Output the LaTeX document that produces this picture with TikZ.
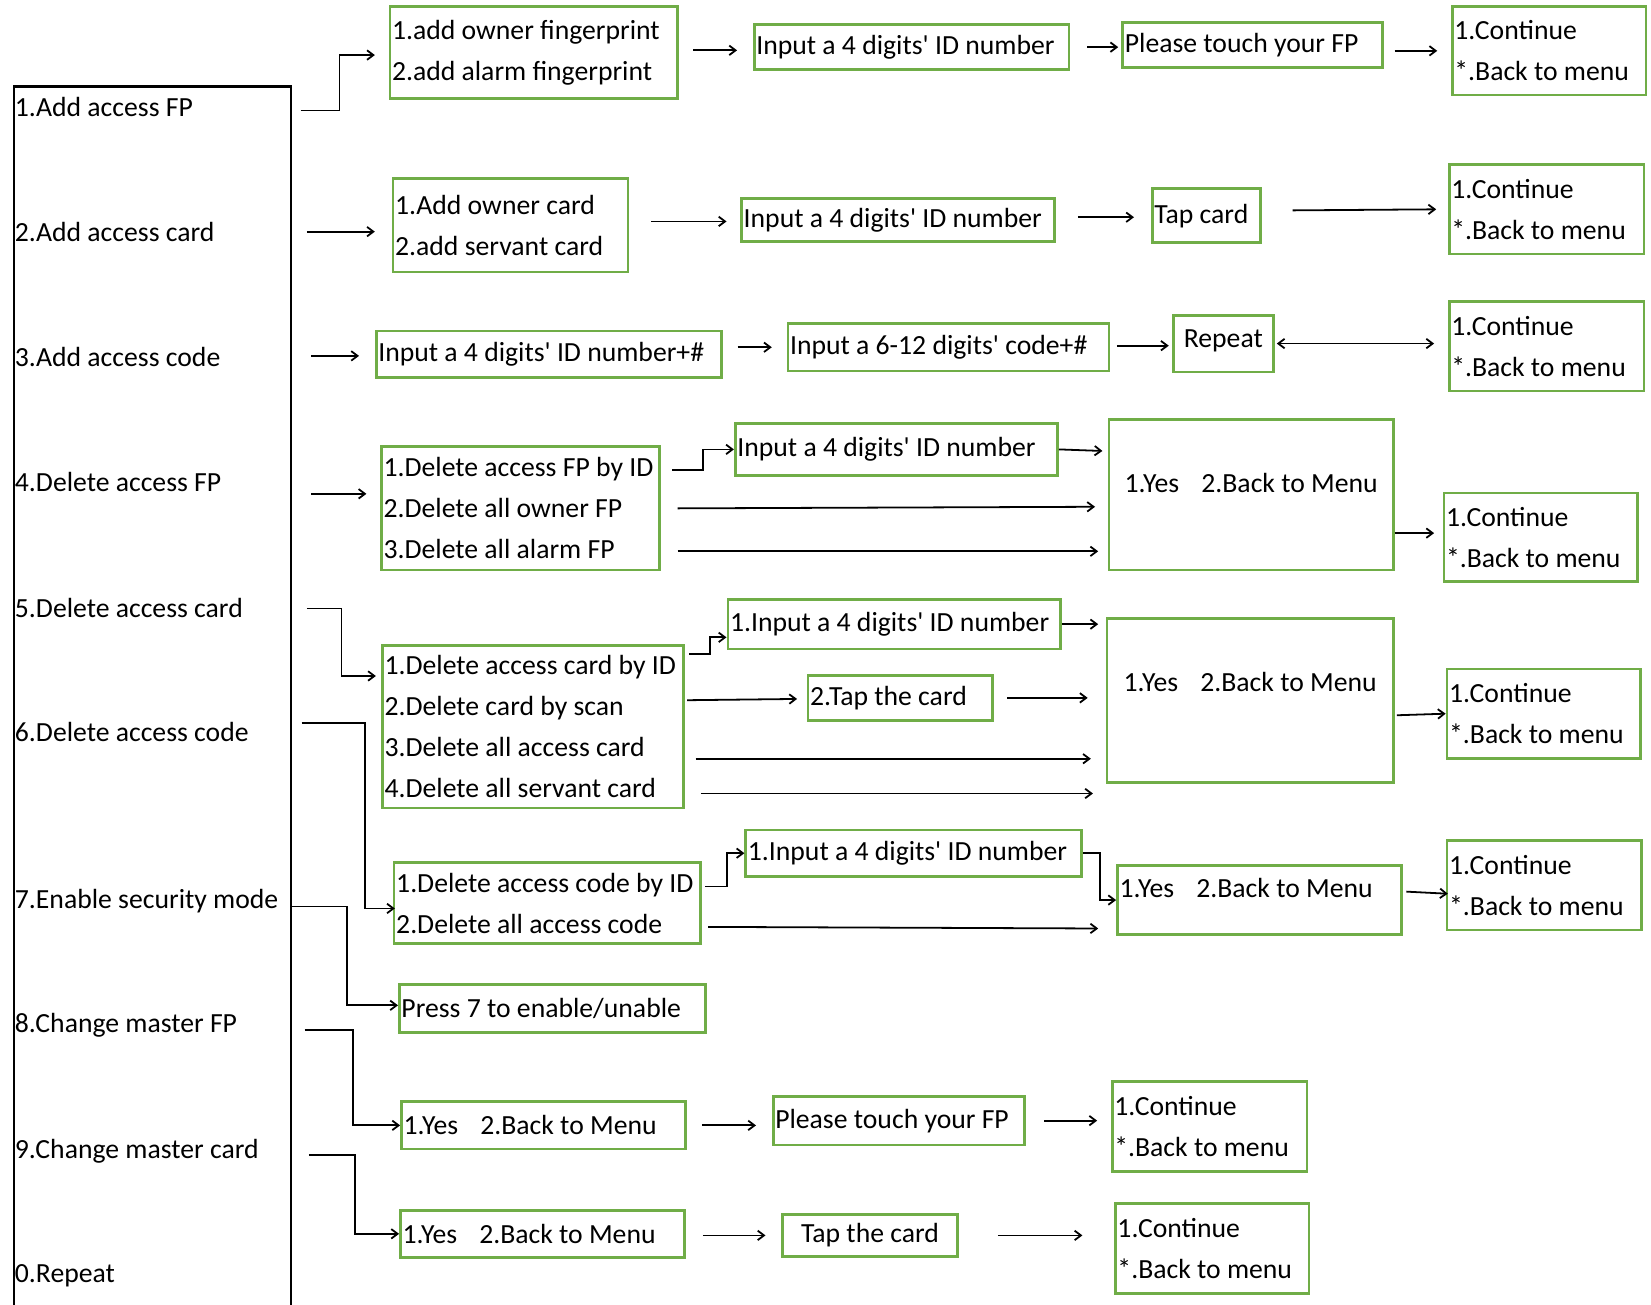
\documentclass[tikz,border=0pt]{standalone}
\usepackage{fontspec}
\setmainfont{Carlito}
\usepackage{tikz}
\usetikzlibrary{arrows.meta,calc}
\definecolor{boxgreen}{HTML}{70AD47}
\newcommand{\menufont}{\fontsize{26.3}{39}\selectfont}
\newcommand{\yesback}{1.Yes\hspace{0.8em}2.Back to Menu}
\newcommand{\contback}{1.Continue\\{}*.Back to menu}
\newcommand{\idnum}{4 digits\textquotesingle{} ID number}
\tikzstyle{screen} = [draw=boxgreen, line width=2.6pt, anchor=north west, align=flush left, inner xsep=2pt, inner ysep=0pt, font=\menufont]
\tikzstyle{menuitem} = [anchor=base west, inner sep=0pt, font=\menufont]
\tikzstyle{conn} = [->, line width=1.7pt]
\tikzset{dims/.style 2 args={text width=#1, minimum height=#2}}

\begin{document}
\begin{tikzpicture}[x=1pt, y=-1pt, >={Straight Barb[length=6pt,width=9pt]}]
    \useasboundingbox (0,0) rectangle (1568,1239);
    % main menu
    \node[draw, line width=2.4pt, anchor=north west, minimum width=263, minimum height=1180, inner sep=0pt] (menu) at (12,81) {};
    \node[menuitem] (m1) at (14,111) {1.Add access FP};
    \node[menuitem] (m2) at (14,229.5) {2.Add access card};
    \node[menuitem] (m3) at (14,348) {3.Add access code};
    \node[menuitem] (m4) at (14,467) {4.Delete access FP};
    \node[menuitem] (m5) at (14,586) {5.Delete access card};
    \node[menuitem] (m6) at (14,704) {6.Delete access code};
    \node[menuitem] (m7) at (14,863) {7.Enable security mode};
    \node[menuitem] (m8) at (14,981) {8.Change master FP};
    \node[menuitem] (m9) at (14,1100) {9.Change master card};
    \node[menuitem] (m0) at (14,1218) {0.Repeat};

    % add access FP
    \node[screen, dims={269}{87}] (A1) at (369,5) {1.add owner fingerprint\\2.add alarm fingerprint};
    \node[screen, dims={295}{43}] (A2) at (715,22) {Input a \idnum};
    \node[screen, dims={243}{43}] (A3) at (1065,20) {Please touch your FP};
    \node[screen, dims={180}{84}] (A4) at (1378,5) {\contback};

    % add access card
    \node[screen, dims={219}{89}] (B1) at (372,168) {1.Add owner card\\2.add servant card};
    \node[screen, dims={293}{41}] (B2) at (703,187) {Input a \idnum};
    \node[screen, dims={99}{51}] (B3) at (1093,178) {Tap card};
    \node[screen, dims={181}{85}] (B4) at (1375,155) {\contback};

    % add access code
    \node[screen, dims={324}{44}] (C1) at (356,313) {Input a \idnum+\#};
    \node[screen, dims={301}{45}] (C2) at (747,306) {Input a 6-12 digits\textquotesingle{} code+\#};
    \node[screen, dims={91}{54}, align=flush center, text height=30.5, text depth=23.5] (C3) at (1113,298) {Repeat};
    \node[screen, dims={181}{85}] (C4) at (1375,285) {\contback};

    % delete access FP
    \node[screen, dims={260}{117}] (D1) at (361,423) {1.Delete access FP by ID\\2.Delete all owner FP\\3.Delete all alarm FP};
    \node[screen, dims={302}{49}] (D2) at (697,401) {Input a \idnum};
    \node[screen, dims={266}{143}, align=flush center, text height=69.5, text depth=73.5] (D3) at (1052,397) {\yesback};
    \node[screen, dims={180}{84}] (D4) at (1370,467) {\contback};

    % delete access card
    \node[screen, dims={282}{154}] (E1) at (362,612) {1.Delete access card by ID\\2.Delete card by scan\\3.Delete all access card\\4.Delete all servant card};
    \node[screen, dims={312}{47}] (E2) at (690,568) {1.Input a \idnum};
    \node[screen, dims={171}{43}] (E3) at (766,640) {2.Tap the card};
    \node[screen, dims={268}{156}, align=flush center, text height=69.5, text depth=86.5] (E4) at (1050,586) {\yesback};
    \node[screen, dims={180}{85}] (E5) at (1373,634) {\contback};

    % delete access code
    \node[screen, dims={287}{77}] (F1) at (373,818) {1.Delete access code by ID\\2.Delete all access code};
    \node[screen, dims={315}{44}] (F2) at (707,787) {1.Input a \idnum};
    \node[screen, dims={266}{65}, text height=30.5, text depth=34.5] (F3) at (1060,821) {\yesback};
    \node[screen, dims={181}{85}] (F4) at (1373,797) {\contback};

    % security mode, master FP, master card
    \node[screen, dims={287}{45}] (G1) at (378,934) {Press 7 to enable/unable};
    \node[screen, dims={266}{45}] (H1) at (380,1045) {\yesback};
    \node[screen, dims={235}{46}] (H2) at (733,1040) {Please touch your FP};
    \node[screen, dims={181}{85}] (H3) at (1055,1026) {\contback};
    \node[screen, dims={266}{45}] (I1) at (379,1148) {\yesback};
    \node[screen, dims={162}{40}, align=flush center] (I2) at (742,1152) {Tap the card};
    \node[screen, dims={180}{85}] (I3) at (1058,1142) {\contback};

    % connectors
    \draw[conn] ($(m1.base -| menu.east)+(8,-6)$) -- ++(37,0) |- ($(A1.west)+(-13,2.5)$);
    \draw[conn] ($(A1.east)+(14,-2)$) -- ($(A2.west |- A1.east)+(-15,-2)$);
    \draw[conn] ($(A2.east)+(16,0)$) -- ($(A3.west |- A2.east)+(-3,0)$);
    \draw[conn] ($(A3.east |- A4.west)+(10,0)$) -- ($(A4.west)+(-13,0)$);

    \draw[conn] ($(m2.base -| menu.east)+(14,-9.5)$) -- ($(B1.west |- m2.base)+(-16,-9.5)$);
    \draw[conn] ($(B1.east |- B2.west)+(21,1.5)$) -- ($(B2.west)+(-13,1.5)$);
    \draw[conn] ($(B2.east |- B3.west)+(21,1.5)$) -- ($(B3.west)+(-16,1.5)$);
    \draw[conn] ($(B3.east |- B4.west)+(29,1)$) -- ($(B4.west)+(-11,0)$);

    \draw[conn] ($(m3.base -| menu.east)+(18,-10)$) -- ($(C1.west |- m3.base)+(-15,-10)$);
    \draw[conn] ($(C1.east |- C2.west)+(14,0)$) -- ($(C2.west)+(-14,0)$);
    \draw[conn] ($(C2.east |- C3.west)+(6,2)$) -- ($(C3.west)+(-3,2)$);
    \draw[conn, <->] ($(C3.east)+(2,0)$) -- ($(C4.west |- C3.east)+(-13,0)$);

    \draw[conn] ($(m4.base -| menu.east)+(18,2)$) -- ($(D1.west |- m4.base)+(-13,2)$);
    \draw[conn] ($(D1.north east)+(11,23)$) -- ++(29,0) |- (D2.west);
    \draw[conn] (D2.east) -- ($(D3.west |- D2.east)+(-5,1.5)$);
    \draw[conn] ($(D1.east)+(16,0)$) -- ($(D3.west |- D1.east)+(-12,-1.5)$);
    \draw[conn] ($(D1.south east)+(16,-19)$) -- ($(D3.west |- D1.south east)+(-9,-19)$);
    \draw[conn] ($(D3.east |- D4.west)+(0,-4)$) -- ($(D4.west)+(-8,-4)$);

    \draw[conn] ($(m5.base -| menu.east)+(14,-8)$) -- ++(33,0) |- ($(E1.north west)+(-5,30)$);
    \draw[conn] ($(E1.north east)+(4,9)$) -- ++(20,0) |- ($(E2.west)+(0,12.5)$);
    \draw[conn] (E2.east) -- ($(E4.west |- E2.east)+(-7,0)$);
    \draw[conn] ($(E1.north east)+(2,53)$) -- ($(E3.west)+(-9,1)$);
    \draw[conn] ($(E3.east)+(13,0)$) -- ($(E4.west |- E3.east)+(-17,0)$);
    \draw[conn] ($(E1.south east)+(10,-48)$) -- ($(E4.west |- E1.south east)+(-14,-48)$);
    \draw[conn] ($(E1.south east)+(15,-15)$) -- ($(E4.west |- E1.south east)+(-12,-15)$);
    \draw[conn] ($(E4.east)+(2,14)$) -- (E5.west);

    \draw[conn] ($(m6.base -| menu.east)+(9,-17)$) -- ++(60,0) |- ($(F1.west)+(2,5)$);
    \draw[conn] ($(F1.north east)+(3,24)$) -- ++(21,0) |- (F2.west);
    \draw[conn] (F2.east) -- ++(16,0) |- (F3.west);
    \draw[conn] ($(F1.east)+(6,22.5)$) -- ($(F3.west |- F1.east)+(-17,24)$);
    \draw[conn] ($(F3.east)+(3,-8)$) -- ($(F4.west)+(2,8)$);

    \draw[conn] ($(m7.base -| menu.east)+(0,-2)$) -- ++(52,0) |- ($(G1.west)+(0,-3)$);

    \draw[conn] ($(m8.base -| menu.east)+(12,-3)$) -- ++(46,0) |- (H1.west);
    \draw[conn] ($(H1.east)+(14,0)$) -- ($(H2.west |- H1.east)+(-15,0)$);
    \draw[conn] ($(H2.east)+(17,0)$) -- ($(H3.west |- H2.east)+(-13,0)$);

    \draw[conn] ($(m9.base -| menu.east)+(16,-3)$) -- ++(44,0) |- (I1.west);
    \draw[conn] ($(I1.east)+(16,1.5)$) -- ($(I2.west |- I1.east)+(-15,1.5)$);
    \draw[conn] ($(I2.east)+(37,0)$) -- ($(I3.west |- I2.east)+(-30,0)$);
\end{tikzpicture}
\end{document}
